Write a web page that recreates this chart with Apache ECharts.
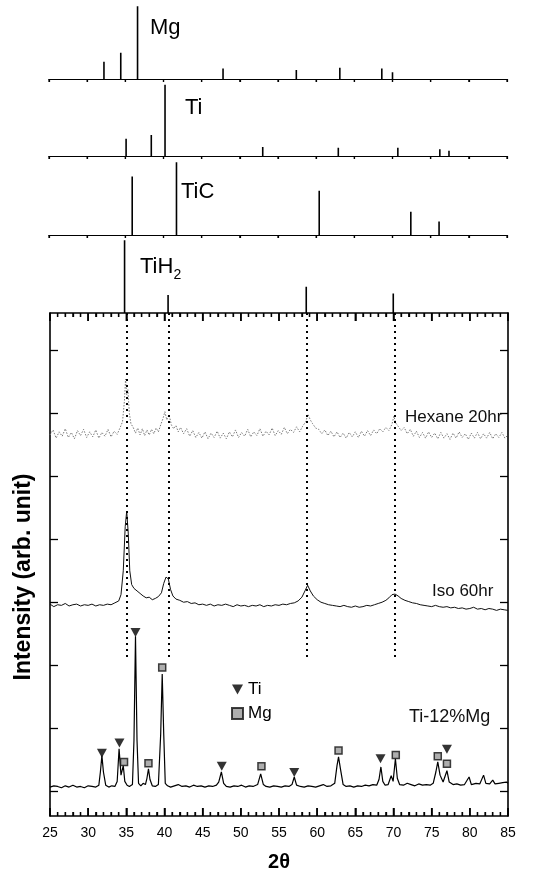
<!DOCTYPE html>
<html>
<head>
<meta charset="utf-8">
<script src="https://cdn.jsdelivr.net/npm/echarts@6/dist/echarts.min.js"></script>
<style>
  html, body { margin: 0; padding: 0; background: #fff; }
  #chart { width: 543px; height: 878px; }
</style>
</head>
<body>
<div id="chart"></div>
<script>
// reference stick patterns: [2theta, relative intensity]
const mgRef = [[32.2, 23], [34.4, 35], [36.6, 97], [47.8, 14], [57.4, 12], [63.1, 15], [68.6, 14], [70.0, 9]];
const tiRef = [[35.1, 23], [38.4, 28], [40.2, 95], [53.0, 12], [62.9, 11], [70.7, 11], [76.2, 9], [77.4, 7]];
const ticRef = [[35.9, 78], [41.7, 97], [60.4, 59], [72.4, 31], [76.1, 18]];
const tih2Ref = [[34.9, 97], [40.6, 24], [58.7, 35], [70.1, 26]];

// measured patterns, offset in arbitrary units
const hexane = [[25,5.66],[25.4,5.74],[25.8,5.61],[26.2,5.71],[26.6,5.64],[27,5.76],[27.4,5.62],[27.8,5.7],[28.2,5.6],[28.6,5.73],[29,5.65],[29.4,5.75],[29.8,5.62],[30.2,5.71],[30.6,5.63],[31,5.74],[31.4,5.61],[31.8,5.7],[32.2,5.64],[32.6,5.75],[33,5.63],[33.4,5.72],[33.8,5.67],[34.2,5.78],[34.5,5.87],[34.75,6.2],[34.9,6.55],[35.05,6.3],[35.2,6.38],[35.4,6.0],[35.6,5.84],[35.9,5.78],[36.2,5.69],[36.5,5.77],[36.8,5.66],[37.1,5.76],[37.4,5.65],[37.7,5.74],[38,5.66],[38.3,5.75],[38.6,5.68],[38.9,5.77],[39.2,5.71],[39.5,5.82],[39.8,5.92],[40.05,6.03],[40.3,5.9],[40.6,5.98],[40.9,5.82],[41.2,5.76],[41.5,5.81],[41.8,5.71],[42.1,5.78],[42.5,5.68],[42.9,5.76],[43.3,5.64],[43.7,5.73],[44.1,5.62],[44.5,5.7],[44.9,5.61],[45.3,5.71],[45.7,5.6],[46.1,5.69],[46.5,5.62],[46.9,5.72],[47.3,5.61],[47.7,5.69],[48.1,5.6],[48.5,5.71],[48.9,5.63],[49.3,5.74],[49.7,5.62],[50.1,5.7],[50.5,5.64],[50.9,5.75],[51.3,5.63],[51.7,5.71],[52.1,5.65],[52.5,5.76],[52.9,5.64],[53.3,5.72],[53.7,5.66],[54.1,5.77],[54.5,5.65],[54.9,5.73],[55.3,5.67],[55.7,5.78],[56.1,5.68],[56.5,5.75],[56.9,5.7],[57.3,5.79],[57.7,5.71],[58.1,5.8],[58.5,5.87],[58.8,5.99],[59.1,5.9],[59.4,5.84],[59.8,5.77],[60.2,5.75],[60.6,5.68],[61,5.74],[61.4,5.65],[61.8,5.72],[62.2,5.63],[62.6,5.71],[63,5.62],[63.4,5.69],[63.8,5.61],[64.2,5.7],[64.6,5.63],[65,5.71],[65.4,5.62],[65.8,5.72],[66.2,5.64],[66.6,5.73],[67,5.65],[67.4,5.74],[67.8,5.68],[68.2,5.76],[68.6,5.71],[69,5.78],[69.4,5.73],[69.8,5.83],[70.05,5.96],[70.3,5.85],[70.6,5.8],[71,5.73],[71.4,5.78],[71.8,5.68],[72.2,5.75],[72.6,5.64],[73,5.72],[73.4,5.62],[73.8,5.7],[74.2,5.61],[74.6,5.71],[75,5.62],[75.4,5.69],[75.8,5.6],[76.2,5.7],[76.6,5.61],[77,5.68],[77.4,5.59],[77.8,5.69],[78.2,5.61],[78.6,5.71],[79,5.62],[79.4,5.68],[79.8,5.59],[80.2,5.69],[80.6,5.61],[81,5.7],[81.4,5.6],[81.8,5.68],[82.2,5.61],[82.6,5.7],[83,5.6],[83.4,5.68],[83.8,5.62],[84.2,5.7],[84.6,5.61],[85,5.66]];

const iso = [[25,2.97],[25.5,2.93],[26,2.96],[26.5,2.95],[27,2.98],[27.5,2.94],[28,2.96],[28.5,2.97],[29,2.94],[29.5,2.96],[30,2.95],[30.5,2.97],[31,2.94],[31.5,2.96],[32,2.95],[32.5,2.97],[33,2.96],[33.5,2.99],[34,3.02],[34.3,3.12],[34.6,3.5],[34.85,4.2],[35.05,4.45],[35.25,4.1],[35.45,3.5],[35.7,3.28],[36.0,3.22],[36.4,3.18],[36.8,3.14],[37.2,3.1],[37.6,3.07],[38.0,3.08],[38.4,3.04],[38.8,3.06],[39.2,3.09],[39.6,3.15],[39.9,3.3],[40.2,3.4],[40.5,3.37],[40.8,3.2],[41.1,3.1],[41.5,3.05],[42,3.03],[42.5,3.0],[43,3.01],[43.5,2.98],[44,2.99],[44.5,2.96],[45,2.97],[45.5,2.95],[46,2.97],[46.5,2.94],[47,2.96],[47.5,2.95],[48,2.97],[48.5,2.95],[49,2.93],[49.5,2.96],[50,2.94],[50.5,2.95],[51,2.93],[51.5,2.95],[52,2.94],[52.5,2.96],[53,2.93],[53.5,2.95],[54,2.94],[54.5,2.96],[55,2.95],[55.5,2.97],[56,2.96],[56.5,2.98],[57,2.99],[57.5,3.02],[58,3.08],[58.4,3.18],[58.75,3.27],[59.1,3.18],[59.5,3.1],[60,3.04],[60.5,3.0],[61,2.98],[61.5,2.96],[62,2.95],[62.5,2.94],[63,2.93],[63.5,2.95],[64,2.93],[64.5,2.92],[65,2.94],[65.5,2.92],[66,2.93],[66.5,2.95],[67,2.94],[67.5,2.96],[68,2.98],[68.5,3.0],[69,3.03],[69.4,3.07],[69.8,3.12],[70.2,3.13],[70.6,3.1],[71,3.06],[71.5,3.03],[72,3.01],[72.5,2.99],[73,2.98],[73.5,2.96],[74,2.95],[74.5,2.94],[75,2.93],[75.5,2.95],[76,2.93],[76.5,2.92],[77,2.93],[77.5,2.91],[78,2.92],[78.5,2.9],[79,2.91],[79.5,2.89],[80,2.9],[80.5,2.92],[81,2.89],[81.5,2.9],[82,2.88],[82.5,2.9],[83,2.89],[83.5,2.87],[84,2.89],[84.5,2.88],[85,2.87]];

const tiMg = [[25,0.06],[25.5,0.08],[26,0.07],[26.5,0.05],[27,0.08],[27.5,0.06],[28,0.09],[28.5,0.06],[29,0.07],[29.5,0.05],[30,0.08],[30.5,0.07],[31,0.06],[31.4,0.09],[31.6,0.3],[31.8,0.56],[32.0,0.3],[32.3,0.09],[32.7,0.06],[33.1,0.08],[33.5,0.07],[33.8,0.15],[34.05,0.67],[34.3,0.25],[34.6,0.4],[34.8,0.15],[35.1,0.09],[35.4,0.07],[35.8,0.1],[36.0,0.8],[36.2,2.46],[36.4,0.8],[36.6,0.12],[36.9,0.08],[37.2,0.12],[37.5,0.1],[37.7,0.2],[37.9,0.35],[38.1,0.18],[38.4,0.08],[38.8,0.07],[39.2,0.1],[39.5,0.9],[39.7,1.86],[39.9,0.9],[40.1,0.12],[40.4,0.08],[40.8,0.06],[41.3,0.08],[41.8,0.1],[42.3,0.07],[42.8,0.08],[43.3,0.06],[43.8,0.09],[44.3,0.07],[44.8,0.08],[45.3,0.06],[45.8,0.08],[46.3,0.07],[46.8,0.09],[47.1,0.14],[47.45,0.3],[47.75,0.12],[48.1,0.07],[48.6,0.06],[49.1,0.08],[49.6,0.07],[50.1,0.09],[50.6,0.06],[51.1,0.08],[51.6,0.07],[52.2,0.1],[52.6,0.27],[52.95,0.1],[53.3,0.07],[53.8,0.06],[54.3,0.08],[54.8,0.07],[55.3,0.06],[55.8,0.08],[56.3,0.07],[56.7,0.1],[57.0,0.22],[57.3,0.09],[57.8,0.07],[58.3,0.06],[58.8,0.08],[59.3,0.07],[59.8,0.06],[60.3,0.08],[60.8,0.1],[61.3,0.07],[61.8,0.08],[62.3,0.12],[62.6,0.4],[62.8,0.54],[63.05,0.35],[63.4,0.1],[63.8,0.07],[64.3,0.08],[64.8,0.06],[65.3,0.08],[65.8,0.07],[66.3,0.09],[66.8,0.08],[67.3,0.1],[67.8,0.09],[68.1,0.18],[68.35,0.38],[68.6,0.15],[68.9,0.09],[69.3,0.1],[69.7,0.24],[69.95,0.15],[70.25,0.51],[70.5,0.2],[70.8,0.1],[71.3,0.09],[71.8,0.12],[72.3,0.1],[72.8,0.08],[73.3,0.11],[73.8,0.09],[74.3,0.1],[74.8,0.09],[75.2,0.12],[75.55,0.3],[75.8,0.46],[76.1,0.25],[76.5,0.14],[77.0,0.32],[77.3,0.14],[77.8,0.1],[78.3,0.11],[78.8,0.09],[79.3,0.1],[79.9,0.22],[80.2,0.1],[80.8,0.12],[81.3,0.11],[81.8,0.25],[82.1,0.12],[82.6,0.11],[83.0,0.17],[83.3,0.11],[83.8,0.12],[84.3,0.13],[84.8,0.14],[85,0.12]];

// phase markers on the Ti-12%Mg pattern
const tiMarks = [[31.8, 0.6], [34.1, 0.76], [36.2, 2.52], [47.5, 0.39], [57.0, 0.29], [68.3, 0.51], [77.0, 0.66]];
const mgMarks = [[34.7, 0.46], [37.9, 0.44], [39.7, 1.96], [52.7, 0.39], [62.8, 0.64], [70.3, 0.57], [75.8, 0.55], [77.0, 0.43]];

// TiH2 guide lines
const dropX = [35.1, 40.5, 58.7, 70.2];
const dropTop = 7.6;
const dropBottom = 2.1;

const xMajor = [25, 30, 35, 40, 45, 50, 55, 60, 65, 70, 75, 80, 85];
const yTickVals = [0, 1, 2, 3, 4, 5, 6, 7];
const xMinor = [];
for (let v = 26; v < 85; v++) if (v % 5 !== 0) xMinor.push(v);

const Y_MIN = -0.4, Y_MAX = 7.6;
const FONT = "'Liberation Sans', Arial, sans-serif";
const triPath = 'path://M0,0 L10,0 L5,9 Z';

const chart = echarts.init(document.getElementById('chart'), null, { renderer: 'canvas' });

const panelTops = [4, 81, 160, 238];
const panels = [mgRef, tiRef, ticRef, tih2Ref];

const grids = [{ left: 50, top: 313, width: 458, height: 503 }];
panelTops.forEach(t => grids.push({ left: 49, top: t, width: 458, height: 75 }));

const xAxes = [
  {
    type: 'value', gridIndex: 0, position: 'bottom', min: 25, max: 85, interval: 5,
    axisLine: { onZero: false, lineStyle: { color: '#000', width: 1.6 } },
    axisTick: { show: true, inside: true, length: 8, lineStyle: { color: '#000', width: 1.5 } },
    minorTick: { show: true, splitNumber: 5, length: 4, lineStyle: { color: '#000', width: 1.3 } },
    axisLabel: { color: '#000', fontSize: 14, fontFamily: FONT, margin: 10 },
    splitLine: { show: false },
    name: '2θ', nameLocation: 'middle', nameGap: 36,
    nameTextStyle: { fontSize: 20, fontWeight: 'bold', fontFamily: FONT, color: '#000' }
  },
  {
    type: 'value', gridIndex: 0, position: 'top', min: 25, max: 85, interval: 5,
    axisLine: { onZero: false, lineStyle: { color: '#000', width: 1.6 } },
    axisTick: { show: true, inside: true, length: 8, lineStyle: { color: '#000', width: 1.5 } },
    minorTick: { show: true, splitNumber: 5, length: 4, lineStyle: { color: '#000', width: 1.3 } },
    axisLabel: { show: false }, splitLine: { show: false }
  }
];
panels.forEach((p, i) => {
  xAxes.push({
    type: 'value', gridIndex: i + 1, min: 25, max: 85, interval: 5,
    axisLine: { show: i < 3, onZero: false, lineStyle: { color: '#000', width: 1.2 } },
    axisTick: { show: i < 3, length: 3, lineStyle: { color: '#000', width: 1.2 } },
    axisLabel: { show: false }, splitLine: { show: false }
  });
});

const frameY = pos => ({
  type: 'value', gridIndex: 0, position: pos, min: Y_MIN, max: Y_MAX,
  axisLine: { show: true, onZero: false, lineStyle: { color: '#000', width: 1.6 } },
  axisTick: { show: true, inside: true, length: 8, customValues: yTickVals, lineStyle: { color: '#000', width: 1.3 } },
  axisLabel: { show: false },
  splitLine: { show: false }
});
const yAxes = [frameY('left'), frameY('right')];
panels.forEach((p, i) => {
  yAxes.push({ type: 'value', gridIndex: i + 1, min: 0, max: 100, show: false, splitLine: { show: false } });
});

// tick marks at the frame edges: each item is [value, edge value, pixel length (signed)]
const tickItems = (vals, edge, len) => vals.map(v => [v, edge, len]);
const tickSeries = (idx, data, w) => ({
  type: 'custom', xAxisIndex: idx, yAxisIndex: idx, silent: true, clip: false, z: 20,
  data: data,
  renderItem: (params, api) => {
    const p = api.coord([api.value(0), api.value(1)]);
    return {
      type: 'line',
      shape: { x1: p[0], y1: p[1], x2: p[0], y2: p[1] + api.value(2) },
      style: { stroke: '#000', lineWidth: w }
    };
  }
});

const series = [
  {
    name: 'Hexane 20hr', type: 'line', xAxisIndex: 0, yAxisIndex: 0, data: hexane,
    showSymbol: false, lineStyle: { color: '#7a7a7a', width: 1, type: [1.5, 1.5] }, z: 2
  },
  {
    name: 'Iso 60hr', type: 'line', xAxisIndex: 0, yAxisIndex: 0, data: iso,
    showSymbol: false, lineStyle: { color: '#111', width: 1 }, z: 2,
    markLine: {
      silent: true, symbol: 'none', label: { show: false },
      lineStyle: { color: '#000', width: 2, type: [2, 4] },
      data: dropX.map(x => [{ coord: [x, dropTop] }, { coord: [x, dropBottom] }])
    }
  },
  {
    name: 'Ti-12%Mg', type: 'line', xAxisIndex: 0, yAxisIndex: 0, data: tiMg,
    showSymbol: false, lineStyle: { color: '#000', width: 1.2 }, z: 2
  },
  {
    name: 'Ti', type: 'scatter', xAxisIndex: 0, yAxisIndex: 0, data: tiMarks,
    symbol: triPath, symbolSize: [10, 9], itemStyle: { color: '#000' }, z: 5
  },
  {
    name: 'Mg', type: 'scatter', xAxisIndex: 0, yAxisIndex: 0, data: mgMarks,
    symbol: 'rect', symbolSize: 7, itemStyle: { color: '#9a9a9a', borderColor: '#111', borderWidth: 1.5 }, z: 5
  },
  tickSeries(0, tickItems(xMajor, Y_MIN, -8).concat(tickItems(xMajor, Y_MAX, 8)), 1.5),
  tickSeries(0, tickItems(xMinor, Y_MIN, -4).concat(tickItems(xMinor, Y_MAX, 4)), 1.3)
];
panels.forEach((p, i) => {
  series.push({
    type: 'bar', xAxisIndex: i + 2, yAxisIndex: i + 2, data: p,
    barWidth: 1.6, itemStyle: { color: '#000' }, silent: true
  });
  if (i < 3) series.push(tickSeries(i + 2, tickItems(xMajor, 0, 3), 1.2));
});

chart.setOption({
  animation: false,
  backgroundColor: '#fff',
  grid: grids,
  xAxis: xAxes,
  yAxis: yAxes,
  legend: {
    data: [{ name: 'Ti', icon: triPath }, { name: 'Mg', icon: 'rect' }],
    orient: 'vertical', left: 226, top: 676, itemGap: 7,
    itemWidth: 11, itemHeight: 11,
    textStyle: { fontSize: 17, fontFamily: FONT, color: '#000' },
    selectedMode: false
  },
  graphic: [
    { type: 'text', left: 150, top: 17, style: { text: 'Mg', font: '22px ' + FONT, fill: '#000' } },
    { type: 'text', left: 185, top: 97, style: { text: 'Ti', font: '22px ' + FONT, fill: '#000' } },
    { type: 'text', left: 181, top: 181, style: { text: 'TiC', font: '22px ' + FONT, fill: '#000' } },
    { type: 'text', left: 140, top: 256, style: { text: 'TiH{s|2}', font: '22px ' + FONT, fill: '#000',
        rich: { s: { fontSize: 14, fontFamily: FONT, padding: [16, 0, 0, 0] } } } },
    { type: 'text', left: 405, top: 409, style: { text: 'Hexane 20hr', font: '17px ' + FONT, fill: '#111' } },
    { type: 'text', left: 432, top: 583, style: { text: 'Iso 60hr', font: '17px ' + FONT, fill: '#111' } },
    { type: 'text', left: 409, top: 708, style: { text: 'Ti-12%Mg', font: '18px ' + FONT, fill: '#111' } },
    { type: 'text', x: 24, y: 577, rotation: Math.PI / 2,
      style: { text: 'Intensity (arb. unit)', font: 'bold 23px ' + FONT, fill: '#000',
        textAlign: 'center', textVerticalAlign: 'middle', align: 'center', verticalAlign: 'middle' } }
  ],
  series: series
});
</script>
</body>
</html>
